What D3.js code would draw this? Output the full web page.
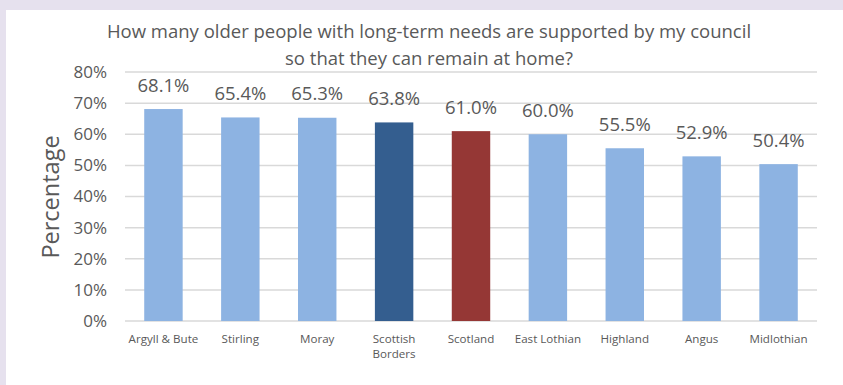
<!DOCTYPE html>
<html>
<head>
<meta charset="utf-8">
<script src="https://cdn.jsdelivr.net/npm/d3@7"></script>
<style>
  html, body { margin: 0; padding: 0; background: #e6e1ee; }
  svg { display: block; }
  text { font-family: "Open Sans", Lato, sans-serif; fill: #595959; }
</style>
</head>
<body>
<svg id="chart" width="843" height="385"></svg>
<script>
// Councils and share of older people with long-term needs supported at home
const categories = ["Argyll & Bute", "Stirling", "Moray", "Scottish Borders", "Scotland", "East Lothian", "Highland", "Angus", "Midlothian"];
const values = [68.1, 65.4, 65.3, 63.8, 61.0, 60.0, 55.5, 52.9, 50.4];
const barColors = ["#8db3e2", "#8db3e2", "#8db3e2", "#345e8f", "#953735", "#8db3e2", "#8db3e2", "#8db3e2", "#8db3e2"];
const yTicks = [0, 10, 20, 30, 40, 50, 60, 70, 80];
const titleLines = ["How many older people with long-term needs are supported by my council", "so that they can remain at home?"];
const yTitle = "Percentage";

const svg = d3.select("#chart");

// white chart panel on the lavender page
svg.append("rect").attr("x", 6).attr("y", 10).attr("width", 843 - 6).attr("height", 385 - 10).attr("fill", "#ffffff");

const plot = { left: 125, right: 817, top: 72, bottom: 321 };

const x = d3.scaleBand().domain(categories).range([plot.left, plot.right]).paddingInner(0.5).paddingOuter(0.25);
const y = d3.scaleLinear().domain([0, 80]).range([plot.bottom, plot.top]);

// gridlines
svg.append("g").selectAll("line").data(yTicks).join("line")
  .attr("x1", plot.left).attr("x2", plot.right)
  .attr("y1", d => y(d)).attr("y2", d => y(d))
  .attr("stroke", "#d9d9d9").attr("stroke-width", 1.5);

// y axis labels
const yAxis = d3.axisLeft(y).tickValues(yTicks).tickFormat(d => d + "%").tickSize(0).tickPadding(18);
const yg = svg.append("g").attr("transform", `translate(${plot.left},0)`).call(yAxis);
yg.select(".domain").remove();
yg.selectAll("text").attr("font-size", 17).attr("fill", "#595959").style("font-family", "'Open Sans', Lato, sans-serif");

// bars
svg.append("g").selectAll("rect").data(values).join("rect")
  .attr("x", (d, i) => x(categories[i]))
  .attr("y", d => y(d))
  .attr("width", x.bandwidth())
  .attr("height", d => y(0) - y(d))
  .attr("fill", (d, i) => barColors[i]);

// value labels
svg.append("g").selectAll("text").data(values).join("text")
  .attr("x", (d, i) => x(categories[i]) + x.bandwidth() / 2)
  .attr("y", d => y(d) - 17.5)
  .attr("text-anchor", "middle")
  .attr("font-size", 18.5)
  .attr("fill", "#404040")
  .text(d => d.toFixed(1) + "%");

// category labels, wrapping two-word names that are too long
const xg = svg.append("g");
categories.forEach(c => {
  const cx = x(c) + x.bandwidth() / 2;
  const lines = c === "Scottish Borders" ? c.split(" ") : [c];
  const t = xg.append("text").attr("x", cx).attr("y", 343).attr("text-anchor", "middle").attr("font-size", 11.6);
  lines.forEach((l, k) => t.append("tspan").attr("x", cx).attr("dy", k === 0 ? 0 : 15).text(l));
});

// title
const tt = svg.append("text").attr("text-anchor", "middle").attr("font-size", 18.5);
titleLines.forEach((l, k) => tt.append("tspan").attr("x", 429).attr("y", 37.5 + k * 27).text(l));

// y axis title
svg.append("text")
  .attr("transform", `translate(59,197) rotate(-90)`)
  .attr("text-anchor", "middle")
  .attr("font-size", 23.5)
  .text(yTitle);
</script>
</body>
</html>
